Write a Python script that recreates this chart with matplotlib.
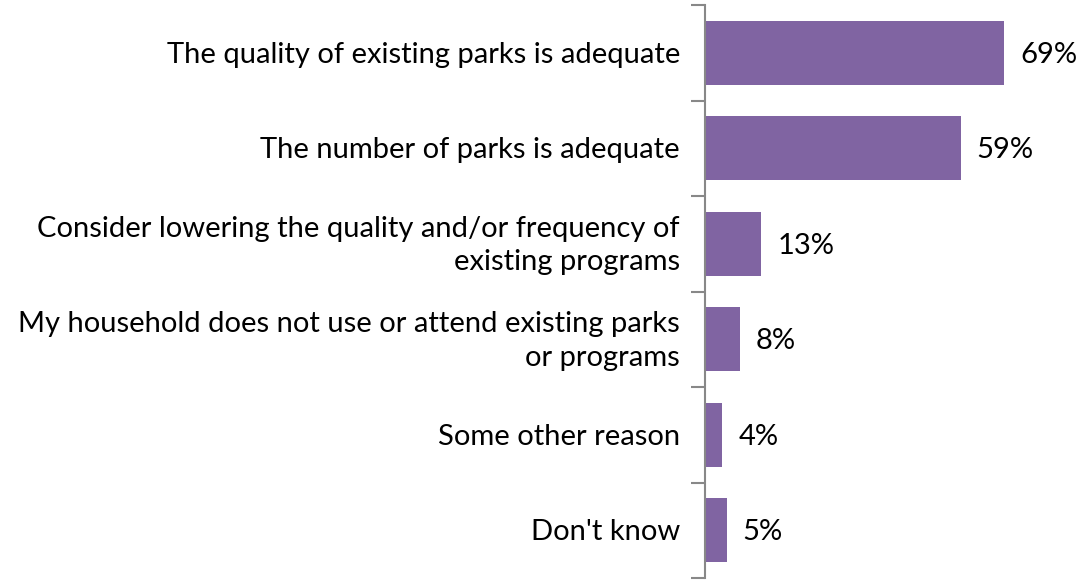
import matplotlib.pyplot as plt

categories = [
    "The quality of existing parks is adequate",
    "The number of parks is adequate",
    "Consider lowering the quality and/or frequency of\nexisting programs",
    "My household does not use or attend existing parks\nor programs",
    "Some other reason",
    "Don't know",
]
values = [69, 59, 13, 8, 4, 5]
labels = ["69%", "59%", "13%", "8%", "4%", "5%"]

plt.rcParams["font.family"] = ["Lato", "DejaVu Sans"]

fig = plt.figure(figsize=(10.82, 5.80), dpi=100)
ax = fig.add_axes([705 / 1082, 2 / 580, 1 - 705 / 1082, 573 / 580])

y = list(range(len(categories)))
ax.barh(y, values, height=0.67, color="#8064A2")
ax.set_xlim(0, 87)
ax.set_ylim(len(categories) - 0.5, -0.5)

for yi, v, lab in zip(y, values, labels):
    ax.text(v + 3.7, yi + 0.02, lab, va="center", ha="left", fontsize=21)

for s in ["top", "right", "bottom"]:
    ax.spines[s].set_visible(False)
ax.spines["left"].set_color("#888888")
ax.spines["left"].set_linewidth(1.5)

ax.set_xticks([])
ax.set_yticks([i - 0.5 for i in range(len(categories) + 1)], minor=False)
ax.set_yticklabels([])
ax.tick_params(axis="y", length=10, width=1.5, color="#888888")

for yi, cat in zip(y, categories):
    ax.text(-25 / 4.33, yi + 0.02, cat, va="center", ha="right", fontsize=21,
            linespacing=1.35)

fig.savefig("out.png", dpi=100)
